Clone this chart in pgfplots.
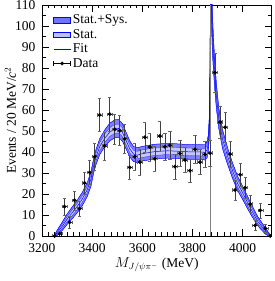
\documentclass[border=0pt]{standalone}
\usepackage{pgfplots}
\pgfplotsset{compat=1.18}
\usepgfplotslibrary{fillbetween}
\usepackage{fontspec}
\setmainfont{Liberation Serif}

\pgfplotstableread{
x c olo ohi ilo ihi
3248 0 -0.3 0.3 -0.15 0.15
3260 1.5 0.3 2.7 0.9 2.1
3280 4.5 2.5 6.5 3.5 5.5
3300 8 5.5 10.5 6.8 9.2
3320 11 8.2 13.8 9.6 12.4
3340 14 11 17 12.5 15.5
3360 17.5 14.3 20.7 15.9 19.1
3380 22 18.7 25.3 20.4 23.6
3395 27 23.6 30.4 25.3 28.7
3405 33 29.5 36.5 31.3 34.7
3415 37.5 33.9 41.1 35.7 39.3
3430 42.5 38.7 46.3 40.6 44.4
3450 46.5 42.5 50.5 44.5 48.5
3470 49.5 45.3 53.7 47.4 51.6
3490 51 46.7 55.3 48.9 53.1
3505 51.2 46.9 55.5 49.1 53.3
3520 49.5 45.3 53.7 47.4 51.6
3535 45.5 41.5 49.5 43.5 47.5
3550 41.5 37.7 45.3 39.6 43.4
3565 39 35.4 42.6 37.2 40.8
3580 38.5 35 42 36.7 40.3
3600 39.2 35.7 42.7 37.4 41
3650 40.2 36.7 43.7 38.4 42
3700 40.6 37.1 44.1 38.8 42.4
3750 40.3 36.8 43.8 38.5 42.1
3800 40 36.5 43.5 38.2 41.8
3830 40 36.5 43.5 38.2 41.8
3850 39.8 36.2 43.4 38 41.6
3858 41 37.2 44.8 39.1 42.9
3863 44 39.8 48.2 41.9 46.1
3867 52 47 57 49.5 54.5
3869.5 70 63 77 66.5 73.5
3871 100 90 110 95 105
3872 130 117 143 123.5 136.5
3873.5 135 121 149 128 142
3876 112 100 124 106 118
3879 98 88 108 93 103
3883 88 80 96 84 92
3888 78 71 85 74.5 81.5
3895 67 61 73 64 70
3905 56 51 61 53.5 58.5
3920 46 41.5 50.5 43.8 48.2
3940 38 34 42 36 40
3960 31 27.3 34.7 29.2 32.8
3980 25 21.6 28.4 23.3 26.7
4000 20.5 17.3 23.7 18.9 22.1
4030 13.5 10.7 16.3 12.1 14.9
4060 7 4.8 9.2 5.9 8.1
4090 2.5 1 4 1.8 3.2
4110 0 -0.5 0.5 -0.25 0.25
}\fittable

\pgfplotstableread{
x y ey
3250 0 0
3270 1.1 1.2
3290 14 3.9
3310 6.5 2.8
3330 17 4.5
3350 13 3.8
3370 25.2 5.1
3390 30.3 5.6
3410 37.8 6.3
3430 57.6 7.8
3450 42.9 6.7
3470 58 7.9
3490 50.8 7.3
3510 50.2 7.2
3530 46.3 6.9
3550 32.7 5.8
3570 37.8 6.3
3590 35.2 6.1
3610 47 7
3630 42.4 6.6
3650 36.8 6.1
3670 47.6 7
3690 42.5 6.6
3710 43.2 6.6
3730 33 5.8
3750 39.3 6.3
3770 36.2 6
3790 31.1 5.6
3810 41.3 6.5
3830 35.2 6
3850 38.9 6.2
3870 39.5 6.3
3890 77.8 9.2
3910 54.3 7.5
3930 51.8 7.3
3950 39 6.3
3970 21.9 4.8
3990 29.2 5.5
4010 23 4.9
4030 15.2 4
4050 5.1 2.3
4070 12.2 3.5
4090 3.7 2
4110 0 0
}\datatable

\begin{document}
\begin{tikzpicture}[font=\fontsize{13.5}{16}\selectfont]
\begin{axis}[
  name=ax,
  scale only axis,
  width=229.5pt, height=231pt,
  xmin=3200, xmax=4115, ymin=0, ymax=110,
  xtick={3200,3400,3600,3800,4000},
  ytick={0,10,...,110},
  minor x tick num=7,
  minor y tick num=1,
  tick align=inside,
  major tick length=7pt,
  minor tick length=3.5pt,
  tick style={black, line width=0.5pt},
  axis line style={line width=0.6pt},
  /pgf/number format/assume math mode=true,
  /pgf/number format/1000 sep={},
  xticklabel style={inner sep=0.5pt, yshift=-7pt},
  yticklabel style={inner sep=0.5pt, xshift=-6pt},
  xlabel={$M_{J/\psi\pi^-}$ (MeV)},
  ylabel={Events / 20 MeV/\textit{c}$^2$},
  ylabel style={yshift=-5pt},
  xlabel style={yshift=-1pt},
  legend style={draw=none, fill=none, at={(0.035,0.975)}, anchor=north west,
    font=\fontsize{13.5}{16}\selectfont, row sep=0pt},
  legend cell align=left,
]
% outer band
\addplot[name path=ohi, blue, line width=0.25pt, forget plot] table[x=x, y=ohi] {\fittable};
\addplot[name path=olo, blue, line width=0.25pt, forget plot] table[x=x, y=olo] {\fittable};
\addplot[fill=blue!50, draw=none, forget plot] fill between[of=ohi and olo];
% inner band
\addplot[name path=ihi, blue, line width=0.2pt, forget plot] table[x=x, y=ihi] {\fittable};
\addplot[name path=ilo, blue, line width=0.2pt, forget plot] table[x=x, y=ilo] {\fittable};
\addplot[fill=blue!22, draw=none, forget plot] fill between[of=ihi and ilo];
\addplot[blue, line width=0.25pt, forget plot] table[x=x, y=olo] {\fittable};
\addplot[blue, line width=0.25pt, forget plot] table[x=x, y=ohi] {\fittable};
% fit
\addplot[blue, line width=0.5pt, forget plot] table[x=x, y=c] {\fittable};
% threshold line
\addplot[gray, line width=0.5pt, forget plot] coordinates {(3872,0) (3872,110)};
% data
\addplot[black, only marks, mark=*, mark size=1.7pt, forget plot,
  error bars/.cd, y dir=both, y explicit, x dir=both, x fixed=10,
  error bar style={black!75, line width=0.6pt},
  error mark options={rotate=90, mark size=1.6pt, black!60}]
  table[x=x, y=y, y error=ey] {\datatable};
% legend
\addlegendimage{area legend, fill=blue!55, draw=blue}
\addlegendentry{Stat.+Sys.}
\addlegendimage{area legend, fill=blue!25, draw=blue}
\addlegendentry{Stat.}
\addlegendimage{blue, line width=0.5pt}
\addlegendentry{Fit}
\addlegendimage{legend image code/.code={
  \draw[black, line width=0.6pt] (0cm,0cm) -- (0.6cm,0cm);
  \draw[black, line width=0.6pt] (0cm,-2.5pt) -- (0cm,2.5pt);
  \draw[black, line width=0.6pt] (0.6cm,-2.5pt) -- (0.6cm,2.5pt);
  \fill[black] (0.3cm,0cm) circle (1.7pt);}}
\addlegendentry{Data}
\end{axis}
\pgfresetboundingbox
\useasboundingbox ([xshift=-42pt,yshift=-45pt]ax.south west) rectangle ([xshift=2.5pt,yshift=5pt]ax.north east);
\end{tikzpicture}
\end{document}
